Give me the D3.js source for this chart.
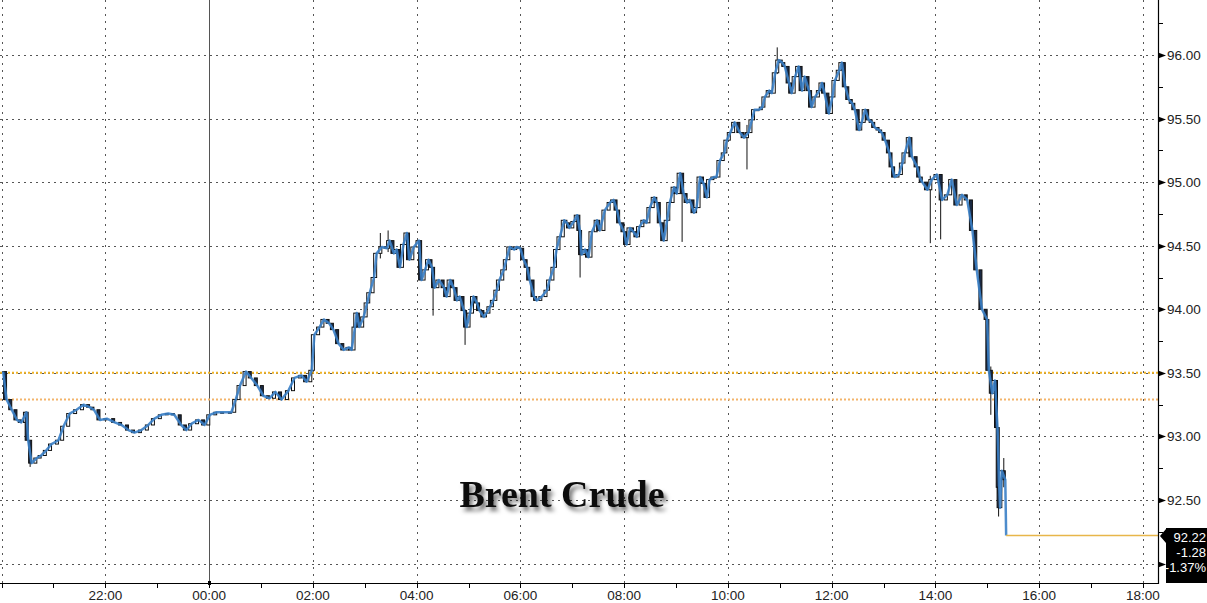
<!DOCTYPE html>
<html><head><meta charset="utf-8">
<script src="https://cdn.jsdelivr.net/npm/d3@7"></script>
<style>
html,body{margin:0;padding:0;background:#fff;}
svg{display:block;}
</style></head>
<body>
<svg id="chart" width="1207" height="603"></svg>
<script>
// minutes after 20:00 (session start)
const minutes = [0,4,10,16,21,27,29,33,39,44,50,56,64,70,77,85,93,100,105,112,120,129,137,145,152,160,168,175,183,191,198,206,212,218,226,233,239,247,255,264,269,274,281,287,294,301,308,315,322,330,337,345,351,357,360,366,371,377,382,388,394,400,403,407,409,412,417,421,424,429,432,438,444,447,452,455,459,463,467,470,475,481,484,488,492,496,499,504,510,513,517,521,525,528,533,536,540,544,548,551,556,559,563,567,571,574,579,582,586,591,594,598,602,606,609,614,617,623,629,632,637,640,644,649,652,655,660,664,667,669,673,677,681,687,690,696,702,706,710,713,718,721,725,729,733,736,741,744,748,753,756,760,764,768,771,776,779,783,787,791,794,799,802,806,810,814,817,822,825,829,834,837,841,846,852,857,862,866,869,874,878,881,886,889,893,897,901,904,909,912,916,920,924,927,932,935,939,944,947,950,955,959,962,967,970,974,978,982,985,990,993,997,1001,1005,1008,1013,1016,1020,1025,1028,1031,1036,1040,1043,1048,1051,1057,1060,1063,1069,1074,1080,1086,1092,1097,1103,1109,1115,1121,1126,1132,1138,1140,1144,1147,1150,1152,1153,1155,1159,1160];
const closes = [93.51,93.29,93.21,93.13,93.11,93.19,92.97,92.79,92.83,92.85,92.89,92.94,92.97,93.08,93.18,93.21,93.25,93.23,93.21,93.13,93.14,93.11,93.09,93.05,93.03,93.05,93.09,93.14,93.17,93.18,93.17,93.09,93.05,93.10,93.13,93.09,93.17,93.19,93.19,93.19,93.29,93.40,93.51,93.46,93.40,93.32,93.30,93.35,93.29,93.36,93.46,93.48,93.43,93.52,93.80,93.86,93.92,93.89,93.84,93.73,93.68,93.70,93.68,93.86,93.97,93.86,93.94,94.05,94.13,94.25,94.44,94.49,94.48,94.54,94.44,94.47,94.33,94.51,94.60,94.39,94.49,94.54,94.23,94.31,94.39,94.33,94.17,94.23,94.17,94.10,94.23,94.17,94.07,94.10,93.99,93.86,93.97,94.10,94.05,93.99,93.94,93.97,94.02,94.07,94.15,94.23,94.31,94.39,94.49,94.47,94.49,94.48,94.39,94.33,94.23,94.10,94.07,94.10,94.15,94.23,94.33,94.47,94.57,94.70,94.68,94.64,94.69,94.74,94.62,94.43,94.47,94.41,94.61,94.70,94.62,94.78,94.84,94.86,94.78,94.68,94.61,94.51,94.64,94.61,94.57,94.65,94.70,94.68,94.80,94.88,94.84,94.68,94.54,94.70,94.84,94.96,94.91,95.07,94.91,94.84,94.86,94.76,94.80,95.04,94.99,94.88,95.02,95.04,95.04,95.17,95.23,95.33,95.39,95.47,95.39,95.35,95.39,95.49,95.57,95.57,95.59,95.67,95.72,95.70,95.86,95.96,95.94,95.91,95.78,95.70,95.83,95.91,95.72,95.83,95.72,95.59,95.67,95.72,95.78,95.70,95.54,95.67,95.80,95.88,95.94,95.75,95.65,95.62,95.57,95.41,95.47,95.57,95.49,95.47,95.43,95.41,95.39,95.33,95.23,95.12,95.04,95.06,95.15,95.23,95.35,95.20,95.12,95.04,95.00,94.94,95.02,95.06,94.86,94.90,95.02,94.82,94.90,94.86,94.62,94.31,94.00,93.92,93.52,93.34,93.44,93.07,92.60,92.44,92.73,92.66,92.22];
// notable wick extremes: minute, high, low
const wickMinutes = [33,438,447,499,536,669,787,862,897,1074,1086,1144,1152,1153,1159];
const wickHighs   = [92.90,94.60,94.62,94.25,94.00,94.45,95.00,95.45,96.06,95.05,95.05,93.55,92.88,92.70,92.83];
const wickLows    = [92.76,94.40,94.45,93.95,93.72,94.25,94.53,95.10,95.85,94.52,94.55,93.17,92.55,92.37,92.60];
const yTicks = [92.00,92.50,93.00,93.50,94.00,94.50,95.00,95.50,96.00];
const yMinorTicks = [92.25,92.75,93.25,93.75,94.25,94.75,95.25,95.75,96.25];
const refLevels = [93.50,93.29];
const lastPrice = "92.22", netChange = "-1.28", pctChange = "-1.37%";
const title = "Brent Crude";

const svg = d3.select("#chart");
const W = 1207, H = 603;
const axisX = 1158, axisY = 583;
const FONT = "'Liberation Sans',Arial,sans-serif";
const base = new Date(2022,0,1,20,0,0);
const toDate = m => new Date(base.getTime() + m*60000);

const x = d3.scaleTime().domain([toDate(0), toDate(22*60)]).range([1.6, 1143]);
const y = d3.scaleLinear().domain([92.5, 96]).range([500, 55]);

const defs = svg.append("defs");
const f = defs.append("filter").attr("id","shadow").attr("x","-20%").attr("y","-40%").attr("width","140%").attr("height","200%");
f.append("feDropShadow").attr("dx",3).attr("dy",4).attr("stdDeviation",2.2).attr("flood-color","#000").attr("flood-opacity",0.55);

const clip = defs.append("clipPath").attr("id","plot");
clip.append("rect").attr("x",0).attr("y",0).attr("width",axisX).attr("height",axisY);

// grid
const g = svg.append("g");
g.selectAll("line.hg").data(yTicks).join("line")
  .attr("x1",0).attr("x2",axisX).attr("y1",d=>Math.round(y(d))+0.5).attr("y2",d=>Math.round(y(d))+0.5)
  .attr("stroke","#555").attr("stroke-width",1).attr("stroke-dasharray","2,4");
const majorHours = d3.range(0, 23, 2).map(h => toDate(h*60));
g.selectAll("line.vg").data(majorHours).join("line")
  .attr("x1",d=>Math.round(x(d))+0.5).attr("x2",d=>Math.round(x(d))+0.5).attr("y1",0).attr("y2",axisY)
  .attr("stroke","#555").attr("stroke-width",1).attr("stroke-dasharray","2,5");
// day separator
g.append("line").attr("x1",Math.round(x(toDate(240)))+0.5).attr("x2",Math.round(x(toDate(240)))+0.5)
  .attr("y1",0).attr("y2",axisY).attr("stroke","#555").attr("stroke-width",1);

// reference levels
const refColors = ["#f0b428","#f3b46a"];
g.selectAll("line.ref").data(refLevels).join("line")
  .attr("x1",0).attr("x2",axisX).attr("y1",d=>y(d)).attr("y2",d=>y(d))
  .attr("stroke",(d,i)=>refColors[i]).attr("stroke-width",2).attr("stroke-dasharray","2,2");

// title
svg.append("text").attr("x",562).attr("y",507).attr("text-anchor","middle")
  .attr("font-family","'Liberation Serif','DejaVu Serif',serif").attr("font-weight","bold")
  .attr("font-size",38).attr("fill","#111").attr("filter","url(#shadow)").text(title);

// data
const data = minutes.map((m,i)=>({t:toDate(m), c:closes[i], o: i>0?closes[i-1]:closes[i]}));
const pg = svg.append("g").attr("clip-path","url(#plot)");

// wicks
pg.selectAll("line.wick").data(wickMinutes).join("line")
  .attr("x1",d=>x(toDate(d))).attr("x2",d=>x(toDate(d)))
  .attr("y1",(d,i)=>y(wickHighs[i])).attr("y2",(d,i)=>y(wickLows[i]))
  .attr("stroke","#111").attr("stroke-width",1);

// candles
pg.selectAll("rect.candle").data(data.slice(1, data.length-1)).join("rect")
  .attr("x",d=>x(d.t)-1.5).attr("width",3)
  .attr("y",d=>y(Math.max(d.o,d.c))).attr("height",d=>Math.max(1,Math.abs(y(d.o)-y(d.c))))
  .attr("fill",d=>d.c>=d.o?"#fff":"#1a2a44").attr("stroke","#111").attr("stroke-width",1);

// blue close line
const line = d3.line().x(d=>x(d.t)+1.5).y(d=>y(d.c));
pg.append("path").datum(data).attr("d",line).attr("fill","none")
  .attr("stroke","#3a7fc6").attr("stroke-width",2.5).attr("stroke-linejoin","round").attr("opacity",0.9);

// last price line
const last = data[data.length-1];
svg.append("line").attr("x1",x(last.t)+1.5).attr("x2",axisX).attr("y1",y(last.c)).attr("y2",y(last.c))
  .attr("stroke","#e8b64a").attr("stroke-width",1.5);

// axes
svg.append("line").attr("x1",axisX+0.5).attr("x2",axisX+0.5).attr("y1",0).attr("y2",axisY+1).attr("stroke","#000").attr("stroke-width",1.2);
svg.append("line").attr("x1",0).attr("x2",axisX+1).attr("y1",axisY+0.5).attr("y2",axisY+0.5).attr("stroke","#000").attr("stroke-width",1.2);

// y minor ticks
svg.selectAll("line.ymin").data(yMinorTicks).join("line")
  .attr("x1",axisX).attr("x2",axisX+5).attr("y1",d=>Math.round(y(d))+0.5).attr("y2",d=>Math.round(y(d))+0.5)
  .attr("stroke","#000");
// y major markers
svg.selectAll("path.ymaj").data(yTicks).join("path")
  .attr("d",d=>{const yy=Math.round(y(d))+0.5;return `M${axisX},${yy-3}L${axisX+8},${yy}L${axisX},${yy+3}Z`;})
  .attr("fill","#000");
svg.selectAll("text.ylab").data(yTicks.filter(d=>d>92.1)).join("text")
  .attr("x",axisX+9).attr("y",d=>y(d)+5).attr("font-family",FONT).attr("font-size",13.5)
  .attr("fill","#222").text(d=>d.toFixed(2));

// x ticks
const hours = d3.range(0, 23, 1).map(h=>toDate(h*60));
svg.selectAll("line.xt").data(hours).join("line")
  .attr("x1",d=>Math.round(x(d))+0.5).attr("x2",d=>Math.round(x(d))+0.5).attr("y1",axisY).attr("y2",axisY+5)
  .attr("stroke","#000");
svg.append("rect").attr("x",Math.round(x(toDate(240)))-1).attr("y",axisY-2).attr("width",3).attr("height",4).attr("fill","#000");
const fmt = d3.timeFormat("%H:%M");
svg.selectAll("text.xl").data(majorHours.slice(1)).join("text")
  .attr("x",d=>x(d)).attr("y",600).attr("text-anchor","middle")
  .attr("font-family",FONT).attr("font-size",13.5).attr("fill","#222").text(d=>fmt(d));

// last price box
const ly = Math.round(y(last.c));
svg.append("path").attr("d",`M${axisX+2},${ly}L${axisX+8},${ly-7}L${axisX+8},${ly-8}L${W},${ly-8}L${W},${axisY}L${axisX+8},${axisY}L${axisX+8},${ly+7}Z`).attr("fill","#000");
const boxTexts = [lastPrice, netChange, pctChange];
svg.selectAll("text.box").data(boxTexts).join("text")
  .attr("x",W-1).attr("y",(d,i)=>ly+6+i*15).attr("text-anchor","end")
  .attr("font-family",FONT).attr("font-size",13).attr("fill","#fff").text(d=>d);
</script>
</body></html>
